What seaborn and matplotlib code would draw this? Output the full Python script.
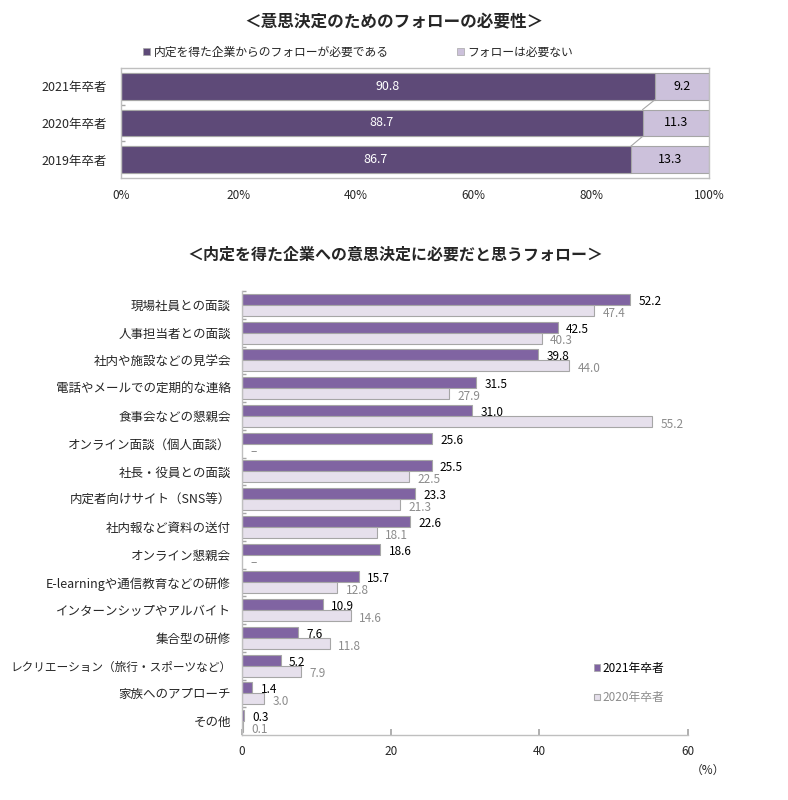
import matplotlib
matplotlib.use('Agg')
import matplotlib.pyplot as plt
import seaborn as sns
import pandas as pd
import numpy as np
from matplotlib.patches import Patch

sns.set_theme(style='white')
plt.rcParams['font.family'] = ['Noto Sans CJK JP', 'DejaVu Sans']

# ---------------- data ----------------
top_title = "＜意思決定のためのフォローの必要性＞"
top_years = ["2021年卒者", "2020年卒者", "2019年卒者"]
top_need = [90.8, 88.7, 86.7]
top_not_need = [9.2, 11.3, 13.3]
top_series = ["内定を得た企業からのフォローが必要である", "フォローは必要ない"]
top_ticks = [0, 20, 40, 60, 80, 100]
top_tick_labels = ["0%", "20%", "40%", "60%", "80%", "100%"]

bottom_title = "＜内定を得た企業への意思決定に必要だと思うフォロー＞"
categories = [
    "現場社員との面談",
    "人事担当者との面談",
    "社内や施設などの見学会",
    "電話やメールでの定期的な連絡",
    "食事会などの懇親会",
    "オンライン面談（個人面談）",
    "社長・役員との面談",
    "内定者向けサイト（SNS等）",
    "社内報など資料の送付",
    "オンライン懇親会",
    "E-learningや通信教育などの研修",
    "インターンシップやアルバイト",
    "集合型の研修",
    "レクリエーション（旅行・スポーツなど）",
    "家族へのアプローチ",
    "その他",
]
v2021 = [52.2, 42.5, 39.8, 31.5, 31.0, 25.6, 25.5, 23.3, 22.6, 18.6, 15.7, 10.9, 7.6, 5.2, 1.4, 0.3]
v2020 = [47.4, 40.3, 44.0, 27.9, 55.2, np.nan, 22.5, 21.3, 18.1, np.nan, 12.8, 14.6, 11.8, 7.9, 3.0, 0.1]
bottom_years = ["2021年卒者", "2020年卒者"]
bottom_ticks = [0, 20, 40, 60]

# ---------------- style ----------------
c_dark = "#5E4A78"
c_light = "#CCC1DB"
c_2021 = "#8064A2"
c_2020 = "#E6E0EC"
c_edge = "#A6A6A6"

fig = plt.figure(figsize=(7.88, 8.0), dpi=100)

# ================= top chart =================
ax1 = fig.add_axes([121 / 788, 1 - 178 / 800, (709 - 121) / 788, (178 - 68) / 800])
df_top = pd.DataFrame({
    "year": top_years,
    "need": top_need,
    "total": [a + b for a, b in zip(top_need, top_not_need)],
})
sns.barplot(data=df_top, y="year", x="total", order=top_years, color=c_light,
            saturation=1, edgecolor=c_edge, linewidth=0.8, width=0.73,
            errorbar=None, orient="h", ax=ax1)
sns.barplot(data=df_top, y="year", x="need", order=top_years, color=c_dark,
            saturation=1, edgecolor=c_edge, linewidth=0.8, width=0.73,
            errorbar=None, orient="h", ax=ax1)
hw = 0.73 / 2
for i in range(len(top_years) - 1):
    ax1.plot([top_need[i], top_need[i + 1]], [i + hw, i + 1 - hw],
             color=c_edge, lw=0.8, zorder=1)
for i, (a, b) in enumerate(zip(top_need, top_not_need)):
    ax1.text(a / 2, i, f"{a:.1f}", color="white", ha="center", va="center", fontsize=9)
    ax1.text(a + b / 2, i, f"{b:.1f}", color="black", ha="center", va="center", fontsize=9)

ax1.set_xlim(0, 100)
ax1.set_ylim(2.5, -0.5)
ax1.set_xticks(top_ticks)
ax1.set_xticklabels(top_tick_labels, fontsize=8.5)
ax1.set_xlabel("")
ax1.set_ylabel("")
ax1.tick_params(axis="y", labelsize=9, length=0, pad=10)
ax1.tick_params(axis="x", direction="in", length=3, color=c_edge, pad=8)
ax1.set_yticks([0.5, 1.5], minor=True)
ax1.tick_params(axis="y", which="minor", direction="in", length=3, color=c_edge, left=True)
for s in ax1.spines.values():
    s.set_color("#BFBFBF")
    s.set_linewidth(1.0)

handles_top = [Patch(facecolor=c_dark, edgecolor=c_edge, lw=0.5),
               Patch(facecolor=c_light, edgecolor=c_edge, lw=0.5)]
ax1.legend(handles_top, top_series, ncol=2, loc="lower left",
           bbox_to_anchor=(0.025, 1.02), frameon=False, fontsize=8.5,
           handlelength=0.6, handleheight=0.6, handletextpad=0.3,
           columnspacing=5.8, borderaxespad=0.2)

fig.text(0.5, 1 - 22 / 800, top_title, ha="center", va="center",
         fontsize=12, fontweight="bold")

# ================= bottom chart =================
ax2 = fig.add_axes([242 / 788, 1 - 735 / 800, (688 - 242) / 788, (735 - 291) / 800])
rows = []
for c, a, b in zip(categories, v2021, v2020):
    rows.append({"category": c, "year": bottom_years[0], "value": a})
    rows.append({"category": c, "year": bottom_years[1], "value": b})
df_bot = pd.DataFrame(rows)
sns.barplot(data=df_bot, y="category", x="value", hue="year", order=categories,
            hue_order=bottom_years, palette=[c_2021, c_2020], saturation=1,
            edgecolor=c_edge, linewidth=0.8, width=0.8, errorbar=None,
            orient="h", legend=False, ax=ax2)

for i, (a, b) in enumerate(zip(v2021, v2020)):
    ax2.annotate(f"{a:.1f}", (a, i - 0.2), xytext=(6, -1.5), textcoords="offset points",
                 ha="left", va="center", fontsize=8.5, color="black")
    if np.isnan(b):
        ax2.annotate("–", (0, i + 0.2), xytext=(6, -1.5), textcoords="offset points",
                     ha="left", va="center", fontsize=8.5, color="#8C8C8C")
    else:
        ax2.annotate(f"{b:.1f}", (b, i + 0.2), xytext=(6, -2), textcoords="offset points",
                     ha="left", va="center", fontsize=8.5, color="#8C8C8C")

ax2.set_xlim(0, 60)
ax2.set_ylim(len(categories) - 0.5, -0.5)
ax2.set_xticks(bottom_ticks)
ax2.set_xticklabels([str(t) for t in bottom_ticks], fontsize=8.5)
ax2.set_xlabel("")
ax2.set_ylabel("")
ax2.tick_params(axis="y", labelsize=9, length=0, pad=8)
ax2.tick_params(axis="x", direction="in", length=4, color=c_edge, pad=7, bottom=True)
ax2.set_yticks(np.arange(-0.5, len(categories) - 0.5, 1.0), minor=True)
ax2.tick_params(axis="y", which="minor", direction="in", length=3, color=c_edge, left=True)
for lab in ax2.get_yticklabels():
    if lab.get_text().startswith("レクリエーション"):
        lab.set_fontsize(8.4)
for k in ["top", "right"]:
    ax2.spines[k].set_visible(False)
for k in ["left", "bottom"]:
    ax2.spines[k].set_color("#BFBFBF")
    ax2.spines[k].set_linewidth(1.0)

handles_bot = [Patch(facecolor=c_2021, edgecolor=c_edge, lw=0.5),
               Patch(facecolor=c_2020, edgecolor=c_edge, lw=0.8)]
ax2.legend(handles_bot, bottom_years, loc="center left",
           bbox_to_anchor=(0.765, 0.117), frameon=False, fontsize=8.5,
           handlelength=0.5, handleheight=0.5, handletextpad=0.2,
           labelspacing=1.4, labelcolor=["black", "#8C8C8C"])

fig.text(395 / 788, 1 - 255 / 800, bottom_title, ha="center", va="center",
         fontsize=11.5, fontweight="bold")
fig.text(708 / 788, 1 - 770 / 800, "（%）", ha="center", va="center", fontsize=8.5)

fig.savefig("out.png", dpi=100)
